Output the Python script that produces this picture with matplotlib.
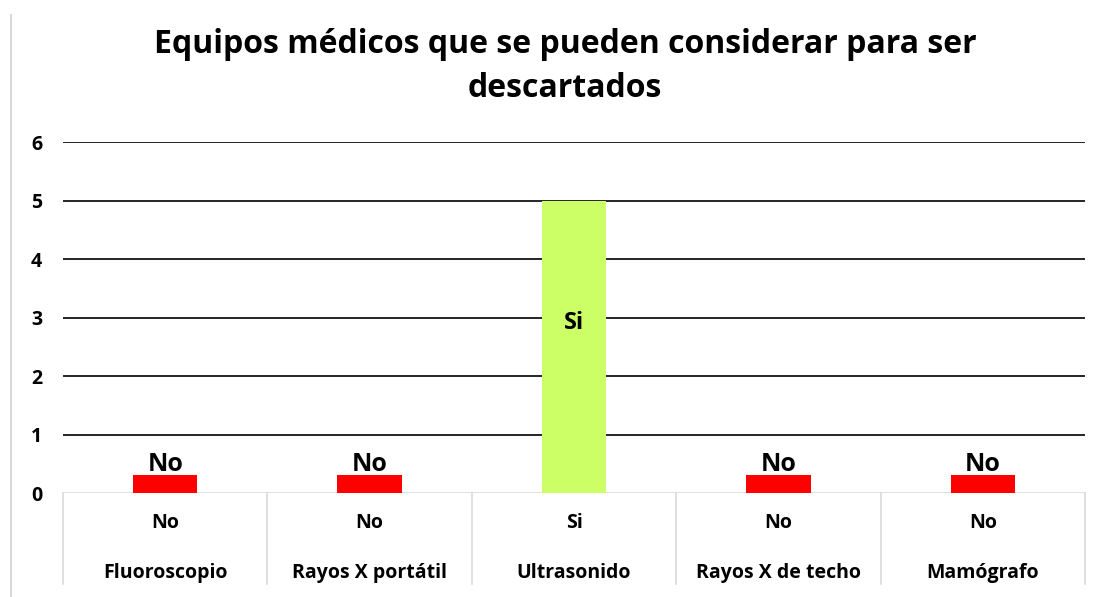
import matplotlib.pyplot as plt
from matplotlib.lines import Line2D

plt.rcParams['font.family'] = ['Open Sans', 'DejaVu Sans']

equipos = ["Fluoroscopio", "Rayos X portátil", "Ultrasonido", "Rayos X de techo", "Mamógrafo"]
respuesta = ["No", "No", "Si", "No", "No"]
valores = [0.3, 0.3, 5, 0.3, 0.3]
colores = {"No": "#FF0000", "Si": "#CCFF66"}

fig = plt.figure(figsize=(11.12, 5.97), dpi=100)
ax = fig.add_axes([0.0567, 0.1742, 0.919, 0.5879])

x = list(range(len(equipos)))
ax.bar(x, valores, width=0.315, color=[colores[r] for r in respuesta], zorder=3)

ax.set_xlim(-0.5, len(equipos) - 0.5)
ax.set_ylim(0, 6)
ax.set_yticks(range(0, 7))
for y in range(1, 7):
    ax.axhline(y, color="black", lw=1.2, zorder=1)
ax.axhline(0, color="#d9d9d9", lw=1.2, zorder=2)

for s in ax.spines.values():
    s.set_visible(False)
ax.tick_params(axis="y", length=0, pad=15, labelsize=14)
for t in ax.get_yticklabels():
    t.set_fontweight("bold")
ax.set_xticks([])

# etiquetas de datos
for xi, v, r in zip(x, valores, respuesta):
    if v < 1:
        ax.text(xi, v - 0.02, r, ha="center", va="bottom", fontsize=18, fontweight="bold", zorder=4)
    else:
        ax.text(xi, v * 0.58, r, ha="center", va="center", fontsize=17, fontweight="bold", zorder=4)

# eje de categorias en dos niveles
tr = ax.get_xaxis_transform()
for xi, r, e in zip(x, respuesta, equipos):
    ax.text(xi, -0.085, r, transform=tr, ha="center", va="center", fontsize=14, fontweight="bold")
    ax.text(xi, -0.228, e, transform=tr, ha="center", va="center", fontsize=14, fontweight="bold")
for b in [i - 0.5 for i in range(len(equipos) + 1)]:
    ax.add_line(Line2D([b, b], [0, -0.26], transform=tr, color="#d9d9d9", lw=1.2, clip_on=False))

fig.text(0.508, 0.889, "Equipos médicos que se pueden considerar para ser\ndescartados",
         ha="center", va="center", fontsize=23, fontweight="bold", linespacing=1.45)

# borde gris a la izquierda
fig.add_artist(Line2D([0.0095, 0.0095], [0, 0.975], transform=fig.transFigure, color="#d9d9d9", lw=1.5))

fig.savefig("out.png", dpi=100, facecolor="white")
